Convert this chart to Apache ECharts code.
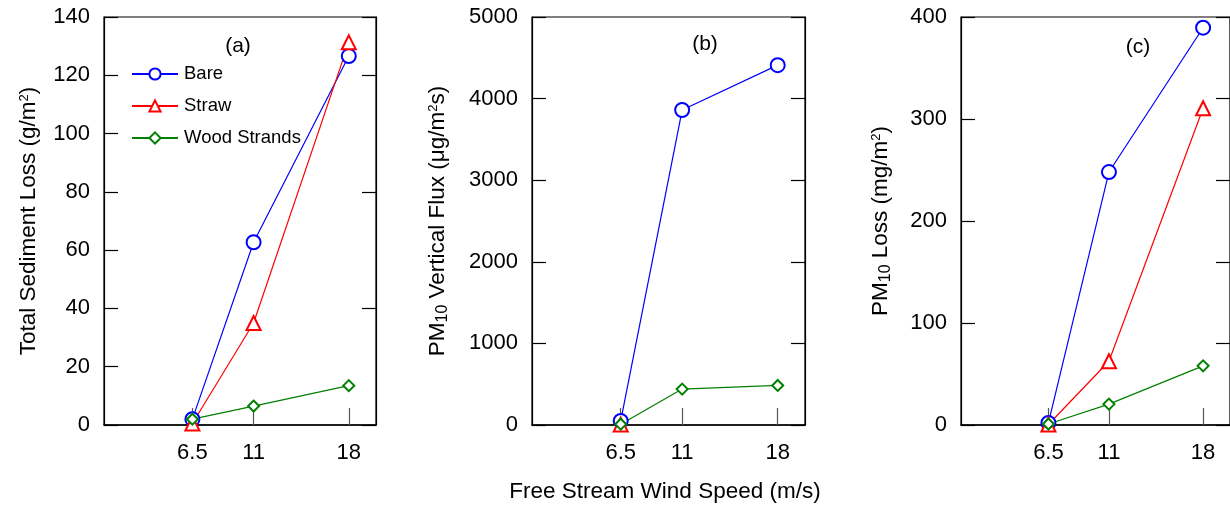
<!DOCTYPE html>
<html>
<head>
<meta charset="utf-8">
<script src="https://cdn.jsdelivr.net/npm/echarts@6/dist/echarts.min.js"></script>
<style>
  html, body { margin: 0; padding: 0; background: #fff; }
  #chart { width: 1230px; height: 505px; }
</style>
</head>
<body>
<div id="chart"></div>
<script>
  // wind speeds (m/s)
  var windSpeed = [6.5, 11, 18];

  // (a) total sediment loss, g/m2
  var bareSediment = [2, 62.7, 126.6];
  var strawSediment = [0.5, 35, 131.3];
  var woodSediment = [2, 6.5, 13.5];

  // (b) PM10 vertical flux, ug/m2s  (straw only measured at 6.5)
  var bareFlux = [50, 3860, 4410];
  var strawFlux = [5];
  var woodFlux = [10, 440, 485];

  // (c) PM10 loss, mg/m2
  var bareLoss = [2, 248, 389.5];
  var strawLoss = [0.5, 62.5, 310.5];
  var woodLoss = [1, 20.5, 58];

  var seriesNames = ['Bare', 'Straw', 'Wood Strands'];
  var panelLabels = ['(a)', '(b)', '(c)'];

  var FONT = 'Liberation Sans, Arial, sans-serif';
  var colors = { Bare: '#0000ff', Straw: '#ff0000', 'Wood Strands': '#008000' };
  var symbols = { Bare: 'emptyCircle', Straw: 'emptyTriangle', 'Wood Strands': 'emptyDiamond' };
  var symbolSizes = { Bare: 14, Straw: 14, 'Wood Strands': 11 };

  function pairs(vals) {
    return vals.map(function (v, i) { return [windSpeed[i], v]; });
  }

  // rich styles for axis names: tokens are top aligned, padding pushes the subscript down
  var nameRich = {
    t: { fontSize: 22.5, fontFamily: FONT, color: '#000', verticalAlign: 'top' },
    sub: { fontSize: 16, fontFamily: FONT, color: '#000', verticalAlign: 'top', padding: [9, 0, 0, 0] },
    sup: { fontSize: 13, fontFamily: FONT, color: '#000', verticalAlign: 'top', padding: [1, 0, 0, 0] }
  };

  var grids = [
    { left: 104, top: 17, width: 272, height: 408 },
    { left: 532, top: 17, width: 273, height: 408 },
    { left: 961, top: 17, width: 272, height: 408 }
  ];

  var xAxes = grids.map(function (g, i) {
    return {
      type: 'value', gridIndex: i, min: 0, max: 20,
      axisLine: { show: true, lineStyle: { color: '#000', width: 1.5 } },
      axisTick: { show: true, inside: true, length: 17, customValues: windSpeed,
                  lineStyle: { color: '#555', width: 1.2 } },
      axisLabel: { show: true, customValues: windSpeed, margin: 17,
                   fontSize: 22, fontFamily: FONT, color: '#000' },
      splitLine: { show: false }
    };
  });

  function leftAxis(i, max, interval, name, gap) {
    return {
      type: 'value', gridIndex: i, position: 'left', min: 0, max: max, interval: interval,
      name: name, nameLocation: 'middle', nameGap: gap, nameTextStyle: { rich: nameRich },
      axisLine: { show: true, lineStyle: { color: '#000', width: 1.2 } },
      axisTick: { show: true, inside: true, length: 14, lineStyle: { color: '#000', width: 1.2 } },
      axisLabel: { margin: 14, fontSize: 22, fontFamily: FONT, color: '#000',
                   formatter: function (v) { return String(v); } },
      splitLine: { show: false }
    };
  }
  function rightAxis(i, max, interval) {
    return {
      type: 'value', gridIndex: i, position: 'right', min: 0, max: max, interval: interval,
      axisLine: { show: true, lineStyle: { color: '#000', width: 1.2 } },
      axisTick: { show: true, inside: true, length: 14, lineStyle: { color: '#000', width: 1.2 } },
      axisLabel: { show: false },
      splitLine: { show: false }
    };
  }

  var yAxes = [
    leftAxis(0, 140, 20, '{t|Total Sediment Loss (g/m}{sup|2}{t|)}', 64),
    rightAxis(0, 140, 40),
    leftAxis(1, 5000, 1000, '{t|PM}{sub|10}{t| Vertical Flux (\u03bcg/m}{sup|2}{t|s)}', 81),
    rightAxis(1, 5000, 1000),
    leftAxis(2, 400, 100, '{t|PM}{sub|10}{t| Loss (mg/m}{sup|2}{t|)}', 67),
    rightAxis(2, 5, 1)   // right-hand ticks of (c) follow a different spacing
  ];

  function makeSeries(name, panel, vals) {
    return {
      name: name, type: 'line', xAxisIndex: panel, yAxisIndex: panel * 2,
      data: pairs(vals),
      symbol: symbols[name], symbolSize: symbolSizes[name],
      lineStyle: { color: colors[name], width: 1.2 },
      itemStyle: { color: colors[name], borderColor: colors[name], borderWidth: 1.6 },
      emphasis: { disabled: true }
    };
  }

  var series = [
    makeSeries('Bare', 0, bareSediment),
    makeSeries('Straw', 0, strawSediment),
    makeSeries('Wood Strands', 0, woodSediment),
    makeSeries('Bare', 1, bareFlux),
    makeSeries('Straw', 1, strawFlux),
    makeSeries('Wood Strands', 1, woodFlux),
    makeSeries('Bare', 2, bareLoss),
    makeSeries('Straw', 2, strawLoss),
    makeSeries('Wood Strands', 2, woodLoss)
  ];

  var labelPos = [[238, 46], [705, 44], [1138, 47]];
  var graphics = panelLabels.map(function (t, i) {
    return { type: 'text', x: labelPos[i][0], y: labelPos[i][1],
             style: { text: t, fontSize: 21, fontFamily: FONT, fill: '#000',
                      align: 'center', verticalAlign: 'middle' } };
  });
  graphics.push({ type: 'text', x: 665, y: 492,
                  style: { text: 'Free Stream Wind Speed (m/s)', fontSize: 22.5, fontFamily: FONT,
                           fill: '#000', align: 'center', verticalAlign: 'middle' } });

  var chart = echarts.init(document.getElementById('chart'));
  chart.setOption({
    animation: false,
    backgroundColor: '#fff',
    grid: grids.map(function (g) {
      return Object.assign({ show: true, borderColor: '#000', borderWidth: 1.2, containLabel: false }, g);
    }),
    legend: {
      data: seriesNames, orient: 'vertical', left: 126, top: 59,
      itemWidth: 46, itemHeight: 14, itemGap: 12, selectedMode: false,
      textStyle: { fontSize: 18.5, fontFamily: FONT, color: '#000', lineHeight: 20, padding: [0, 0, 0, 1] }
    },
    xAxis: xAxes,
    yAxis: yAxes,
    series: series,
    graphic: graphics
  });
</script>
</body>
</html>
